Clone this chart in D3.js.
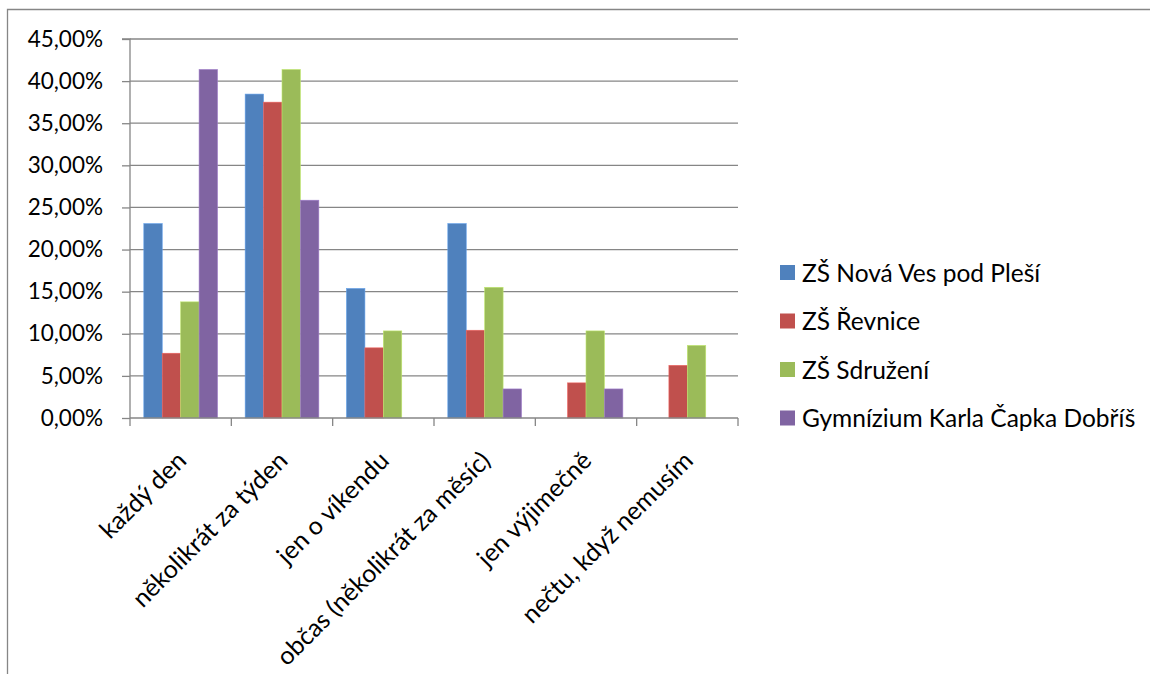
<!DOCTYPE html>
<html><head><meta charset="utf-8">
<script src="https://cdn.jsdelivr.net/npm/d3@7/dist/d3.min.js"></script>
<style>body{margin:0;background:#fff}svg{display:block}text{font-family:Lato,"Open Sans",sans-serif;fill:#000}</style>
</head><body><svg id="c" width="1150" height="674"></svg>
<script>
const categories = ["každý den","několikrát za týden","jen o víkendu","občas (několikrát za měsíc)","jen výjimečně","nečtu, když nemusím"];
const seriesNames = ["ZŠ Nová Ves pod Pleší","ZŠ Řevnice","ZŠ Sdružení","Gymnízium Karla Čapka Dobříš"];
const novaVes = [23.08,38.46,15.38,23.08,0,0];
const revnice = [7.69,37.5,8.33,10.42,4.17,6.25];
const sdruzeni = [13.79,41.38,10.34,15.52,10.34,8.62];
const gymnazium = [41.38,25.86,0,3.45,3.45,0];
const yTicks = [0,5,10,15,20,25,30,35,40,45];
const colors = ["#4F81BD","#C0504D","#9BBB59","#8064A2"];
const seriesValues = [novaVes, revnice, sdruzeni, gymnazium];

(function(){
const svg = d3.select("#c");
const pL=130,pR=738,pT=39,pB=418;
const x = d3.scaleBand().domain(categories).range([pL,pR]).paddingInner(0).paddingOuter(0);
const bw = x.bandwidth()/5.5;
const y = d3.scaleLinear().domain([0,45]).range([pB,pT]);
const grey="#868686";

svg.append("path").attr("d",`M7.5,674 V9.5 H1150`).attr("fill","none").attr("stroke",grey).attr("stroke-width",1.3);

svg.append("g").selectAll("line").data(yTicks.filter(d=>d>0)).join("line")
  .attr("x1",pL).attr("x2",pR).attr("y1",d=>y(d)).attr("y2",d=>y(d))
  .attr("stroke",grey).attr("stroke-width",1.3);

seriesValues.forEach((vals,si)=>{
  svg.append("g").selectAll("rect").data(vals.map((v,i)=>({v,c:categories[i]}))).join("rect")
    .attr("x",d=>x(d.c)+bw*0.75+si*bw).attr("width",bw)
    .attr("y",d=>y(d.v)).attr("height",d=>pB-y(d.v))
    .attr("fill",colors[si]).attr("stroke",d3.color(colors[si]).brighter(0.6)).attr("stroke-width",0.6);
});

const ya = d3.axisLeft(y).tickValues(yTicks).tickSize(8).tickFormat(d=>d.toFixed(2).replace(".",",")+"%");
const yg = svg.append("g").attr("transform",`translate(${pL},0)`).call(ya);
yg.select(".domain").attr("stroke",grey).attr("stroke-width",1.3).attr("d",`M-8,${pT}H0V${pB}`);
yg.selectAll(".tick line").attr("stroke",grey).attr("stroke-width",1.3);
yg.selectAll(".tick text").attr("x",-27).style("font-size","22.5px").style("font-family","Lato").attr("fill","#000");

const xg = svg.append("g").attr("transform",`translate(0,${pB})`);
xg.append("line").attr("x1",pL).attr("x2",pR).attr("stroke",grey).attr("stroke-width",1.3);
const xt = [...categories.map(c=>x(c)), pR];
xg.selectAll("line.t").data(xt).join("line").attr("class","t")
  .attr("x1",d=>d).attr("x2",d=>d).attr("y1",0).attr("y2",8).attr("stroke",grey).attr("stroke-width",1.3);
xg.selectAll("text").data(categories).join("text")
  .attr("transform",d=>`translate(${x(d)+x.bandwidth()/2+1},${38}) rotate(-45)`)
  .attr("text-anchor","end").attr("dy","0.35em").style("font-size","25px").text(d=>d);

const lg = svg.append("g");
seriesNames.forEach((n,i)=>{
  const cy = 273+i*48.5;
  lg.append("rect").attr("x",780).attr("y",cy-8).attr("width",15).attr("height",15).attr("fill",colors[i]);
  lg.append("text").attr("x",802).attr("y",cy).attr("dy","0.35em").style("font-size","24.5px").text(n);
});
})();
</script></body></html>
